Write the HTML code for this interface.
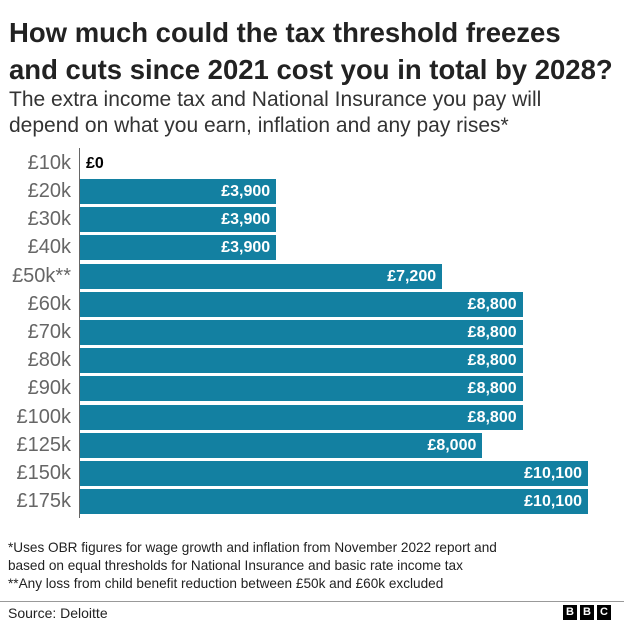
<!DOCTYPE html><html><head><style>
body{margin:0;width:624px;height:624px;background:#fff;font-family:"Liberation Sans",sans-serif;position:relative;overflow:hidden}
.a{position:absolute;white-space:nowrap}
.t{left:9px;font-size:27.5px;font-weight:bold;color:#222;line-height:34px}
.s{left:9px;font-size:21px;color:#333;line-height:26px}
.l{right:553px;font-size:20px;color:#666;text-align:right;line-height:25px}
.b{left:80px;height:25px;background:#1380a1}
.v{color:#fff;font-weight:bold;font-size:16px;line-height:25px;text-align:right}
.f{left:8px;font-size:13.6px;color:#222}
.bbc{width:14px;height:15px;background:#000;color:#fff;font-size:11px;font-weight:bold;text-align:center;line-height:15px;top:605px}
</style></head><body>
<div class="a t" style="top:16px">How much could the tax threshold freezes</div>
<div class="a t" style="top:53px">and cuts since 2021 cost you in total by 2028?</div>
<div class="a s" style="top:87px">The extra income tax and National Insurance you pay will</div>
<div class="a s" style="top:113px">depend on what you earn, inflation and any pay rises*</div>
<div class="a" style="left:79px;top:148px;width:1px;height:370px;background:#666"></div>
<div class="a l" style="top:151px">£10k</div><div class="a" style="left:86px;top:151px;line-height:25px;font-size:16px;font-weight:bold">£0</div>
<div id="bars"></div>
<script>
var d=[["£20k",3900],["£30k",3900],["£40k",3900],["£50k**",7200],["£60k",8800],["£70k",8800],["£80k",8800],["£90k",8800],["£100k",8800],["£125k",8000],["£150k",10100],["£175k",10100]],h="";
d.forEach(function(r,i){var y=179+i*28.2,w=r[1]*508/10100;
h+='<div class="a l" style="top:'+y+'px">'+r[0]+'</div><div class="a b v" style="top:'+y+'px;width:'+(w-6)+'px;padding-right:6px">£'+r[1].toLocaleString("en-GB")+'</div>';});
document.getElementById("bars").innerHTML=h;
</script>
<div class="a f" style="top:540px">*Uses OBR figures for wage growth and inflation from November 2022 report and</div>
<div class="a f" style="top:558px">based on equal thresholds for National Insurance and basic rate income tax</div>
<div class="a f" style="top:576px">**Any loss from child benefit reduction between £50k and £60k excluded</div>
<div class="a" style="left:0;top:601px;width:624px;height:1px;background:#999"></div>
<div class="a f" style="top:605px;left:8px;font-size:14px">Source: Deloitte</div>
<div class="a bbc" style="left:563px">B</div><div class="a bbc" style="left:580px">B</div><div class="a bbc" style="left:597px">C</div>
</body></html>
